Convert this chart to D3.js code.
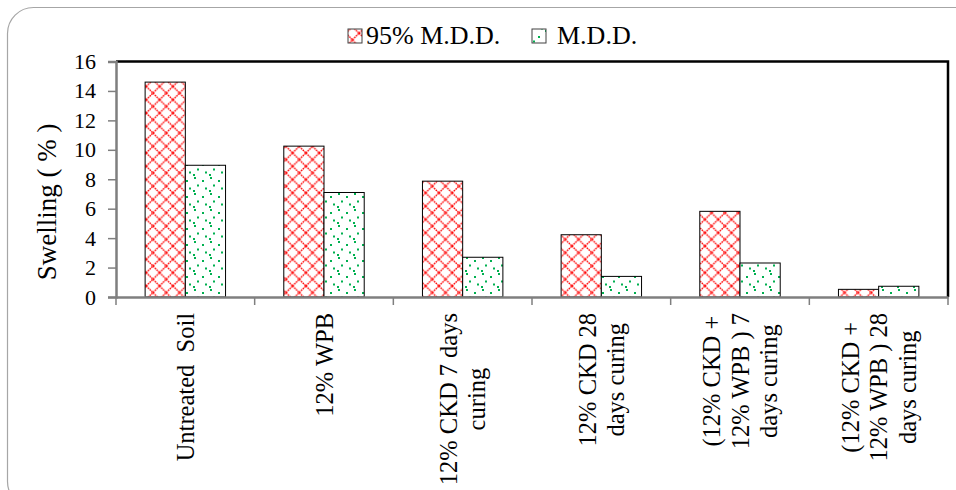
<!DOCTYPE html>
<html><head><meta charset="utf-8">
<script src="https://cdn.jsdelivr.net/npm/d3@7"></script>
<style>body{margin:0;background:#fff}svg{display:block}text{font-family:"Liberation Serif","Times New Roman",serif;fill:#000;white-space:pre}</style>
</head><body><svg id="c" width="956" height="490"></svg>
<script>
const categories = [
  ["Untreated  Soil"],
  ["12% WPB"],
  ["12% CKD 7 days", "curing"],
  ["12% CKD 28", "days curing"],
  ["(12% CKD +", "12% WPB ) 7", "days curing"],
  ["(12% CKD +", "12% WPB ) 28", "days curing"]
];
const seriesNames = ["95% M.D.D.", "M.D.D."];
const mdd95 = [14.6, 10.25, 7.87, 4.23, 5.82, 0.52];
const mdd = [8.95, 7.1, 2.7, 1.4, 2.31, 0.73];
const yTicks = [0, 2, 4, 6, 8, 10, 12, 14, 16];
const yLabel = "Swelling ( % )";

const svg = d3.select("#c");
const m = {l: 116, r: 948, t: 61.5, b: 297};

// outer rounded border
svg.append("rect").attr("x", 7.5).attr("y", 7.5).attr("width", 975).attr("height", 500)
  .attr("rx", 26).attr("fill", "#fff").attr("stroke", "#a6a6a6").attr("stroke-width", 1.2);

// patterns
const defs = svg.append("defs");
const pr = defs.append("pattern").attr("id", "pRed").attr("patternUnits", "userSpaceOnUse")
  .attr("width", 13.3).attr("height", 13.3).attr("x", 0).attr("y", 0);
pr.append("rect").attr("width", 13.3).attr("height", 13.3).attr("fill", "#fff");
pr.append("path").attr("d", "M0,6.65 L6.65,0 L13.3,6.65 L6.65,13.3 Z")
  .attr("fill", "none").attr("stroke", "#ff0000").attr("stroke-width", 1.4).attr("stroke-dasharray", "1.6,0.8");
const pg = defs.append("pattern").attr("id", "pGreen").attr("patternUnits", "userSpaceOnUse")
  .attr("width", 16).attr("height", 16);
pg.append("rect").attr("width", 16).attr("height", 16).attr("fill", "#fff");
[[2,1],[10,4],[5,8.5],[13,11.5],[1,14]].forEach(p => {
  pg.append("rect").attr("x", p[0]).attr("y", p[1]).attr("width", 2).attr("height", 2).attr("fill", "#00b050");
});

const x = d3.scaleBand().domain(d3.range(categories.length)).range([m.l, m.r]).paddingInner(0).paddingOuter(0);
const y = d3.scaleLinear().domain([0, 16]).range([m.b, m.t]);
const barW = x.bandwidth() * 0.29;

// frame top and right
svg.append("path").attr("d", `M${m.l},${m.t} H${m.r} V${m.b}`).attr("fill", "none")
  .attr("stroke", "#000").attr("stroke-width", 2.5);

// bars
const series = [mdd95, mdd];
const fills = ["url(#pRed)", "url(#pGreen)"];
series.forEach((s, si) => {
  svg.append("g").selectAll("rect").data(s).join("rect")
    .attr("x", (d, i) => x(i) + x.bandwidth() / 2 - barW + si * barW)
    .attr("y", d => y(d))
    .attr("width", barW)
    .attr("height", d => y(0) - y(d))
    .attr("fill", fills[si]).attr("stroke", "#000").attr("stroke-width", 1);
});

// y axis
const ya = svg.append("g").attr("transform", `translate(${m.l},0)`)
  .call(d3.axisLeft(y).tickValues(yTicks).tickSize(8).tickPadding(12));
ya.select(".domain").attr("stroke", "#7f7f7f").attr("stroke-width", 2.5);
ya.selectAll(".tick line").attr("stroke", "#7f7f7f").attr("stroke-width", 1.5);
ya.selectAll("text").style("font-family", '"Liberation Serif",serif').style("font-size", "22px").attr("fill", "#000");

// x axis
const xa = svg.append("g").attr("transform", `translate(0,${m.b})`)
  .call(d3.axisBottom(x).tickSize(0).tickFormat(""));
xa.select(".domain").attr("stroke", "#7f7f7f").attr("stroke-width", 2.5);
xa.selectAll(".tick").remove();
const bounds = d3.range(categories.length + 1).map(i => i < categories.length ? x(i) : x(categories.length - 1) + x.bandwidth());
xa.selectAll("line.bt").data(bounds).join("line").attr("class", "bt")
  .attr("x1", d => d).attr("x2", d => d).attr("y1", 0).attr("y2", 8)
  .attr("stroke", "#7f7f7f").attr("stroke-width", 1.5);

// category labels
const lh = 28.5;
categories.forEach((lines, i) => {
  const cx = x(i) + x.bandwidth() / 2;
  const g = svg.append("g");
  const tmp = g.selectAll("text").data(lines).join("text")
    .style("font-size", "24.5px").text(d => d);
  const maxLen = d3.max(tmp.nodes(), n => n.getComputedTextLength());
  const cy = 313 + maxLen / 2;
  const n = lines.length;
  tmp.attr("text-anchor", "middle").attr("dy", "0.35em")
    .attr("transform", (d, j) => `translate(${cx + (j - (n - 1) / 2) * lh},${cy}) rotate(-90)`);
});

// y label
svg.append("text").attr("transform", "translate(47,202) rotate(-90)")
  .attr("text-anchor", "middle").attr("dy", "0.35em").style("font-size", "27px").text(yLabel);

// legend
const leg = [{x: 348, fill: "url(#pRed)", tx: 366}, {x: 532, fill: "url(#pGreen)", tx: 557}];
leg.forEach((l, i) => {
  svg.append("rect").attr("x", l.x).attr("y", 29).attr("width", 14).attr("height", 14)
    .attr("fill", l.fill).attr("stroke", "#404040").attr("stroke-width", 1);
  svg.append("text").attr("x", l.tx).attr("y", 44).style("font-size", "26px").text(seriesNames[i]);
});
</script></body></html>
